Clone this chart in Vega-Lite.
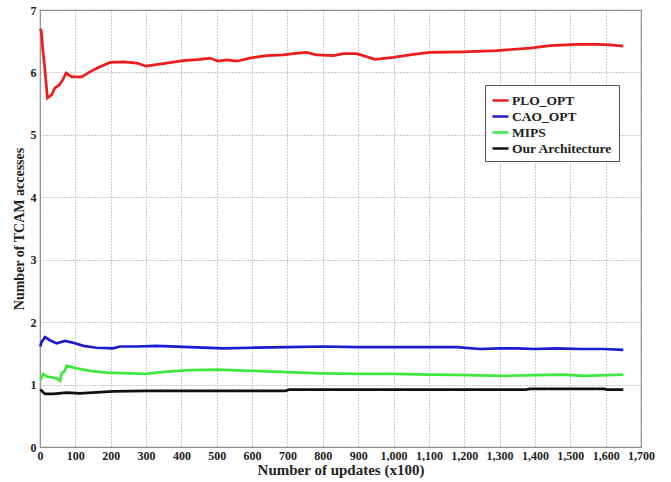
{
  "$schema": "https://vega.github.io/schema/vega-lite/v6.json",
  "width": 601,
  "height": 437,
  "autosize": {"type": "none"},
  "padding": {"left": 40, "top": 10, "right": 30, "bottom": 35},
  "background": "white",
  "config": {
    "font": "Liberation Serif, Times New Roman, serif",
    "view": {"stroke": "#888888", "strokeWidth": 1.2}
  },
  "datasets": {
    "lines": [
      {"x":1,"y":6.70,"s":"PLO_OPT"},{"x":4,"y":6.65,"s":"PLO_OPT"},{"x":8,"y":6.36,"s":"PLO_OPT"},{"x":14,"y":6.04,"s":"PLO_OPT"},{"x":21,"y":5.59,"s":"PLO_OPT"},{"x":33,"y":5.64,"s":"PLO_OPT"},{"x":42,"y":5.75,"s":"PLO_OPT"},{"x":55,"y":5.80,"s":"PLO_OPT"},{"x":64,"y":5.88,"s":"PLO_OPT"},{"x":74,"y":5.99,"s":"PLO_OPT"},{"x":90,"y":5.93,"s":"PLO_OPT"},{"x":118,"y":5.93,"s":"PLO_OPT"},{"x":141,"y":6.01,"s":"PLO_OPT"},{"x":165,"y":6.08,"s":"PLO_OPT"},{"x":198,"y":6.16,"s":"PLO_OPT"},{"x":236,"y":6.17,"s":"PLO_OPT"},{"x":274,"y":6.15,"s":"PLO_OPT"},{"x":300,"y":6.10,"s":"PLO_OPT"},{"x":358,"y":6.15,"s":"PLO_OPT"},{"x":405,"y":6.19,"s":"PLO_OPT"},{"x":453,"y":6.21,"s":"PLO_OPT"},{"x":481,"y":6.23,"s":"PLO_OPT"},{"x":504,"y":6.18,"s":"PLO_OPT"},{"x":528,"y":6.20,"s":"PLO_OPT"},{"x":556,"y":6.18,"s":"PLO_OPT"},{"x":594,"y":6.23,"s":"PLO_OPT"},{"x":641,"y":6.27,"s":"PLO_OPT"},{"x":688,"y":6.28,"s":"PLO_OPT"},{"x":717,"y":6.30,"s":"PLO_OPT"},{"x":754,"y":6.32,"s":"PLO_OPT"},{"x":783,"y":6.28,"s":"PLO_OPT"},{"x":830,"y":6.27,"s":"PLO_OPT"},{"x":858,"y":6.30,"s":"PLO_OPT"},{"x":896,"y":6.30,"s":"PLO_OPT"},{"x":948,"y":6.21,"s":"PLO_OPT"},{"x":999,"y":6.24,"s":"PLO_OPT"},{"x":1056,"y":6.29,"s":"PLO_OPT"},{"x":1103,"y":6.32,"s":"PLO_OPT"},{"x":1198,"y":6.33,"s":"PLO_OPT"},{"x":1292,"y":6.35,"s":"PLO_OPT"},{"x":1386,"y":6.39,"s":"PLO_OPT"},{"x":1443,"y":6.43,"s":"PLO_OPT"},{"x":1518,"y":6.45,"s":"PLO_OPT"},{"x":1575,"y":6.45,"s":"PLO_OPT"},{"x":1612,"y":6.44,"s":"PLO_OPT"},{"x":1650,"y":6.42,"s":"PLO_OPT"},
      {"x":1,"y":1.61,"s":"CAO_OPT"},{"x":4,"y":1.68,"s":"CAO_OPT"},{"x":8,"y":1.71,"s":"CAO_OPT"},{"x":14,"y":1.76,"s":"CAO_OPT"},{"x":28,"y":1.71,"s":"CAO_OPT"},{"x":47,"y":1.66,"s":"CAO_OPT"},{"x":71,"y":1.70,"s":"CAO_OPT"},{"x":94,"y":1.67,"s":"CAO_OPT"},{"x":123,"y":1.62,"s":"CAO_OPT"},{"x":160,"y":1.59,"s":"CAO_OPT"},{"x":207,"y":1.58,"s":"CAO_OPT"},{"x":226,"y":1.61,"s":"CAO_OPT"},{"x":274,"y":1.61,"s":"CAO_OPT"},{"x":330,"y":1.62,"s":"CAO_OPT"},{"x":424,"y":1.60,"s":"CAO_OPT"},{"x":520,"y":1.58,"s":"CAO_OPT"},{"x":600,"y":1.59,"s":"CAO_OPT"},{"x":700,"y":1.60,"s":"CAO_OPT"},{"x":800,"y":1.61,"s":"CAO_OPT"},{"x":900,"y":1.60,"s":"CAO_OPT"},{"x":1000,"y":1.60,"s":"CAO_OPT"},{"x":1100,"y":1.60,"s":"CAO_OPT"},{"x":1179,"y":1.60,"s":"CAO_OPT"},{"x":1245,"y":1.57,"s":"CAO_OPT"},{"x":1300,"y":1.58,"s":"CAO_OPT"},{"x":1349,"y":1.58,"s":"CAO_OPT"},{"x":1400,"y":1.57,"s":"CAO_OPT"},{"x":1462,"y":1.58,"s":"CAO_OPT"},{"x":1530,"y":1.57,"s":"CAO_OPT"},{"x":1594,"y":1.57,"s":"CAO_OPT"},{"x":1650,"y":1.555,"s":"CAO_OPT"},
      {"x":1,"y":1.07,"s":"MIPS"},{"x":9,"y":1.17,"s":"MIPS"},{"x":19,"y":1.13,"s":"MIPS"},{"x":47,"y":1.10,"s":"MIPS"},{"x":57,"y":1.06,"s":"MIPS"},{"x":61,"y":1.18,"s":"MIPS"},{"x":68,"y":1.21,"s":"MIPS"},{"x":71,"y":1.23,"s":"MIPS"},{"x":75,"y":1.30,"s":"MIPS"},{"x":104,"y":1.26,"s":"MIPS"},{"x":141,"y":1.22,"s":"MIPS"},{"x":189,"y":1.19,"s":"MIPS"},{"x":255,"y":1.18,"s":"MIPS"},{"x":300,"y":1.17,"s":"MIPS"},{"x":330,"y":1.19,"s":"MIPS"},{"x":368,"y":1.21,"s":"MIPS"},{"x":424,"y":1.23,"s":"MIPS"},{"x":500,"y":1.24,"s":"MIPS"},{"x":600,"y":1.22,"s":"MIPS"},{"x":700,"y":1.20,"s":"MIPS"},{"x":792,"y":1.18,"s":"MIPS"},{"x":900,"y":1.17,"s":"MIPS"},{"x":1000,"y":1.17,"s":"MIPS"},{"x":1100,"y":1.16,"s":"MIPS"},{"x":1179,"y":1.155,"s":"MIPS"},{"x":1311,"y":1.14,"s":"MIPS"},{"x":1400,"y":1.15,"s":"MIPS"},{"x":1480,"y":1.16,"s":"MIPS"},{"x":1537,"y":1.14,"s":"MIPS"},{"x":1650,"y":1.16,"s":"MIPS"},
      {"x":1,"y":0.92,"s":"Our Architecture"},{"x":14,"y":0.85,"s":"Our Architecture"},{"x":38,"y":0.85,"s":"Our Architecture"},{"x":75,"y":0.87,"s":"Our Architecture"},{"x":113,"y":0.86,"s":"Our Architecture"},{"x":207,"y":0.89,"s":"Our Architecture"},{"x":302,"y":0.90,"s":"Our Architecture"},{"x":424,"y":0.90,"s":"Our Architecture"},{"x":695,"y":0.90,"s":"Our Architecture"},{"x":705,"y":0.92,"s":"Our Architecture"},{"x":1000,"y":0.92,"s":"Our Architecture"},{"x":1375,"y":0.92,"s":"Our Architecture"},{"x":1385,"y":0.93,"s":"Our Architecture"},{"x":1595,"y":0.93,"s":"Our Architecture"},{"x":1605,"y":0.92,"s":"Our Architecture"},{"x":1650,"y":0.92,"s":"Our Architecture"}
    ]
  },
  "data": {"name": "lines"},
  "mark": {"type": "line", "strokeWidth": 2.7, "interpolate": "linear"},
  "encoding": {
    "x": {
      "field": "x", "type": "quantitative",
      "scale": {"domain": [0, 1700], "nice": false},
      "axis": {
        "title": "Number of updates (x100)",
        "values": [0,100,200,300,400,500,600,700,800,900,1000,1100,1200,1300,1400,1500,1600,1700],
        "format": ",d",
        "labelOverlap": false, "labelFlush": false,
        "labelFont": "Liberation Serif, Times New Roman, serif", "labelFontWeight": "bold", "labelFontSize": 12, "labelColor": "#222",
        "titleFont": "Liberation Serif, Times New Roman, serif", "titleFontWeight": "bold", "titleFontSize": 15, "titleColor": "#222",
        "titlePadding": 1, "labelPadding": 3,
        "ticks": false, "domain": false,
        "grid": true, "gridColor": "#999", "gridDash": [1, 2], "gridWidth": 1
      }
    },
    "y": {
      "field": "y", "type": "quantitative",
      "scale": {"domain": [0, 7], "nice": false},
      "axis": {
        "title": "Number of TCAM accesses",
        "values": [0,1,2,3,4,5,6,7],
        "labelOverlap": false, "labelFlush": false,
        "labelFont": "Liberation Serif, Times New Roman, serif", "labelFontWeight": "bold", "labelFontSize": 12, "labelColor": "#222",
        "titleFont": "Liberation Serif, Times New Roman, serif", "titleFontWeight": "bold", "titleFontSize": 14, "titleColor": "#222",
        "titlePadding": 4, "labelPadding": 4,
        "ticks": false, "domain": false,
        "grid": true, "gridColor": "#999", "gridDash": [1, 2], "gridWidth": 1
      }
    },
    "color": {
      "field": "s", "type": "nominal",
      "sort": ["PLO_OPT", "CAO_OPT", "MIPS", "Our Architecture"],
      "scale": {"domain": ["PLO_OPT", "CAO_OPT", "MIPS", "Our Architecture"], "range": ["#ee1c1c", "#1c1cd0", "#3ee83e", "#111111"]},
      "legend": {
        "title": null,
        "orient": "none", "legendX": 445, "legendY": 75,
        "strokeColor": "#555", "fillColor": "white", "padding": 6,
        "symbolType": "stroke", "symbolSize": 256, "symbolStrokeWidth": 2.5,
        "labelFont": "Liberation Serif, Times New Roman, serif", "labelFontWeight": "bold", "labelFontSize": 13.5, "labelColor": "#222",
        "rowPadding": -1, "labelOffset": 2, "symbolOffset": 0
      }
    }
  }
}
